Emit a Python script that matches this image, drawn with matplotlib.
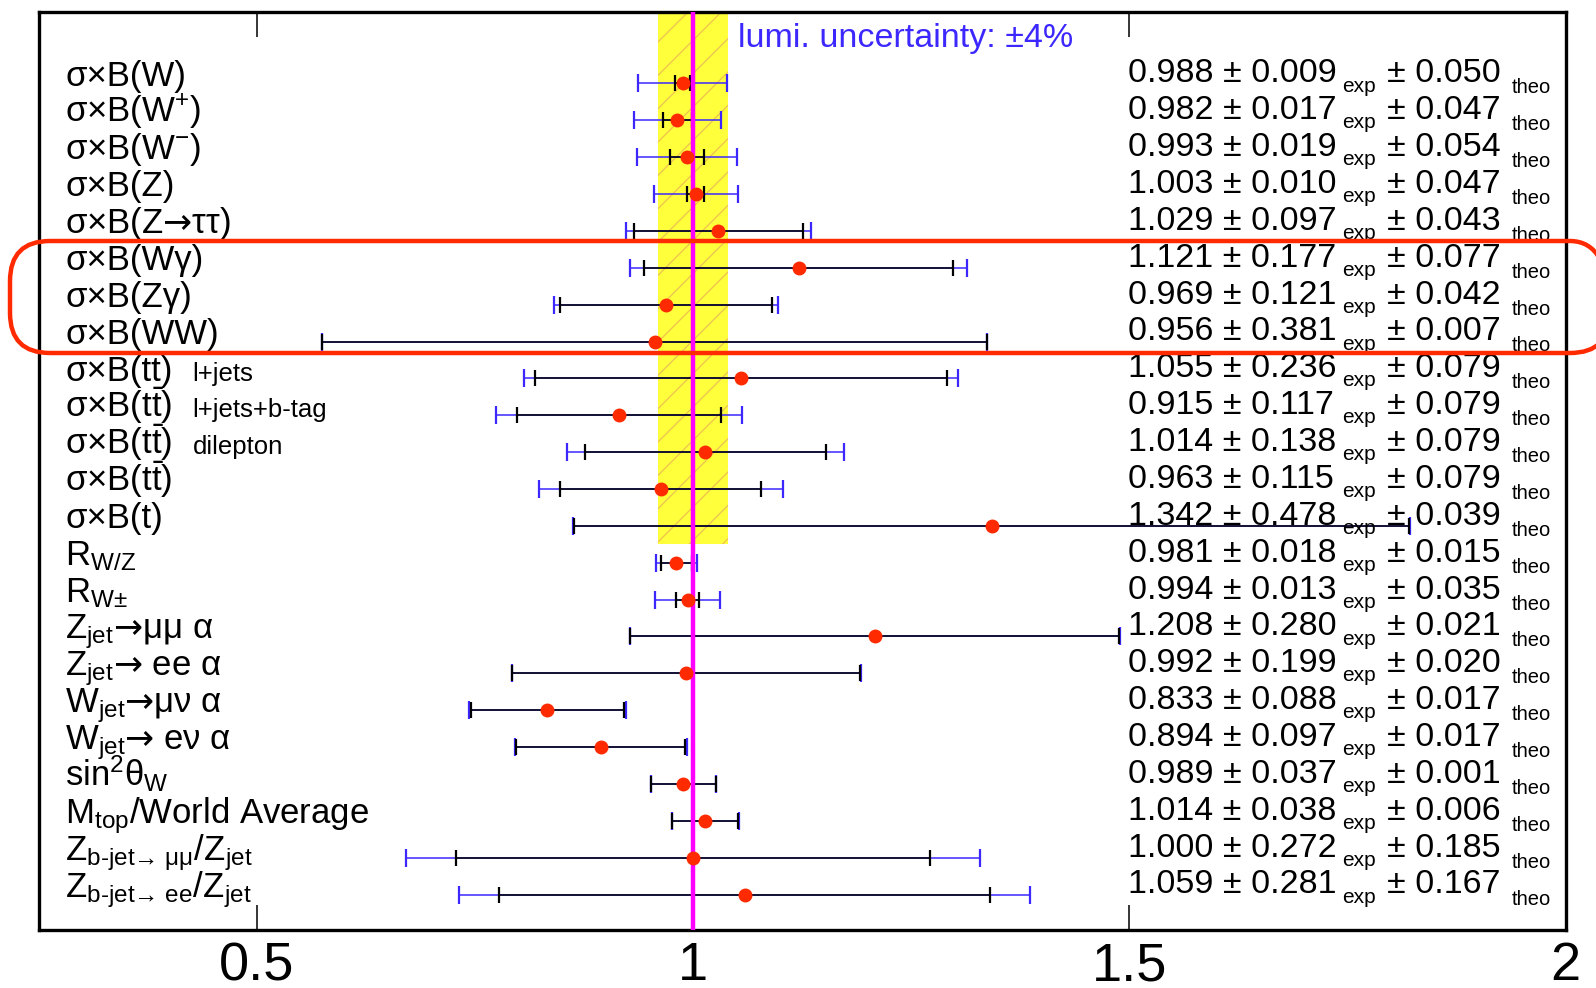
import numpy as np
import matplotlib
matplotlib.use('Agg')
import matplotlib.pyplot as plt
from matplotlib.patches import Rectangle, FancyBboxPatch

plt.rcParams['font.family'] = ['Liberation Sans', 'DejaVu Sans']
plt.rcParams['mathtext.fontset'] = 'custom'
plt.rcParams['mathtext.rm'] = 'Liberation Sans'
plt.rcParams['mathtext.it'] = 'Liberation Sans'
plt.rcParams['mathtext.bf'] = 'Liberation Sans:bold'
plt.rcParams['mathtext.sf'] = 'DejaVu Sans'
plt.rcParams['mathtext.default'] = 'regular'
plt.rcParams['hatch.linewidth'] = 0.9

##### Data #####
labels = [r'σ×B(W)', r'σ×B(W$^{+}$)', r'σ×B(W$^{-}$)', r'σ×B(Z)', r'σ×B(Z$\mathsf{→}$ττ)',
          r'σ×B(Wγ)', r'σ×B(Zγ)', r'σ×B(WW)',
          r'σ×B(tt)', r'σ×B(t$\bar{t}$)', r'σ×B(t$\bar{t}$)', r'σ×B(t$\bar{t}$)', r'σ×B(t)',
          r'R$_{W/Z}$', r'R$_{W±}$',
          r'Z$_{jet}$$\mathsf{→}$μμ α', r'Z$_{jet}$$\mathsf{→}$ ee α',
          r'W$_{jet}$$\mathsf{→}$μν α', r'W$_{jet}$$\mathsf{→}$ eν α',
          r'sin$^{2}$θ$_{W}$', r'M$_{top}$/World Average',
          r'Z$_{b‐jet→\ μμ}$/Z$_{jet}$', r'Z$_{b‐jet→\ ee}$/Z$_{jet}$']
suffix = {8: 'l+jets', 9: 'l+jets+b-tag', 10: 'dilepton'}

central = [0.988, 0.982, 0.993, 1.003, 1.029, 1.121, 0.969, 0.956, 1.055, 0.915, 1.014, 0.963,
           1.342, 0.981, 0.994, 1.208, 0.992, 0.833, 0.894, 0.989, 1.014, 1.000, 1.059]
err_exp = [0.009, 0.017, 0.019, 0.010, 0.097, 0.177, 0.121, 0.381, 0.236, 0.117, 0.138, 0.115,
           0.478, 0.018, 0.013, 0.280, 0.199, 0.088, 0.097, 0.037, 0.038, 0.272, 0.281]
err_theo = [0.050, 0.047, 0.054, 0.047, 0.043, 0.077, 0.042, 0.007, 0.079, 0.079, 0.079, 0.079,
            0.039, 0.015, 0.035, 0.021, 0.020, 0.017, 0.017, 0.001, 0.006, 0.185, 0.167]

lumi = 0.04
n_xsec = 13  # rows covered by lumi band

central = np.array(central)
err_exp = np.array(err_exp)
err_theo = np.array(err_theo)
err_tot = np.sqrt(err_exp**2 + err_theo**2)
ypos = np.arange(len(central))

red = '#ff2a00'
blue = '#3c28ff'

##### Plot #####
fig = plt.figure(figsize=(15.96, 9.88), dpi=100)
ax = fig.add_axes([0.0242, 0.0587, 0.9568, 0.9293])

# lumi band
band = Rectangle((1 - lumi, -5), 2*lumi, n_xsec - 0.5 + 5, facecolor='#ffff3c',
                 edgecolor='#eec050', hatch='/', linewidth=0, zorder=1)
ax.add_patch(band)
ax.axvline(1.0, color='#ff00ff', lw=3.2, zorder=4)

# error bars: total (blue) then exp (black)
ax.errorbar(central, ypos, xerr=err_tot, fmt='none', ecolor=blue, elinewidth=1.1,
            capsize=6.5, capthick=1.6, zorder=2)
ax.errorbar(central, ypos, xerr=err_exp, fmt='none', ecolor='black', elinewidth=1.1,
            capsize=5.5, capthick=1.6, zorder=3)
ax.plot(central, ypos, 'o', color=red, ms=9, mec=red, zorder=5)

# labels on the left
for i in range(len(central)):
    ax.text(0.2804, i + 0.06, labels[i], fontsize=25, ha='left', va='baseline')
    if i in suffix:
        ax.text(0.4264, i + 0.06, suffix[i], fontsize=18.5, ha='left', va='baseline')

# numbers on the right, in fixed columns
for i in range(len(central)):
    ax.text(1.4986, i - 0.03, '%.3f ± %.3f' % (central[i], err_exp[i]),
            fontsize=24.5, ha='left', va='baseline')
    ax.text(1.7439, i + 0.22, 'exp', fontsize=15, ha='left', va='baseline')
    ax.text(1.7954, i - 0.03, '± %.3f' % err_theo[i], fontsize=24.5, ha='left', va='baseline')
    ax.text(1.938, i + 0.27, 'theo', fontsize=14.5, ha='left', va='baseline')

ax.text(1.0514, -1.0, 'lumi. uncertainty: ±4%', fontsize=24.5, color=blue,
        ha='left', va='baseline')

ax.set_xlim(0.25, 2.0)
ax.set_ylim(22.96, -1.94)
ax.set_xticks([0.5, 1, 1.5, 2])
ax.set_xticklabels(['0.5', '1', '1.5', '2'])
ax.set_yticks([])
ax.tick_params(axis='x', direction='in', top=True, length=18, width=1.1,
               labelsize=39, pad=8)
for s in ax.spines.values():
    s.set_linewidth(2.4)

# highlight box (pixel coords -> inches)
box = FancyBboxPatch((10/100, (988 - 353)/100), 16.0, 1.12,
                     boxstyle='round,pad=0,rounding_size=0.4',
                     transform=fig.dpi_scale_trans, fill=False,
                     edgecolor=red, linewidth=3.2, clip_on=False, zorder=10)
fig.add_artist(box)

fig.savefig('out.png', dpi=100)
